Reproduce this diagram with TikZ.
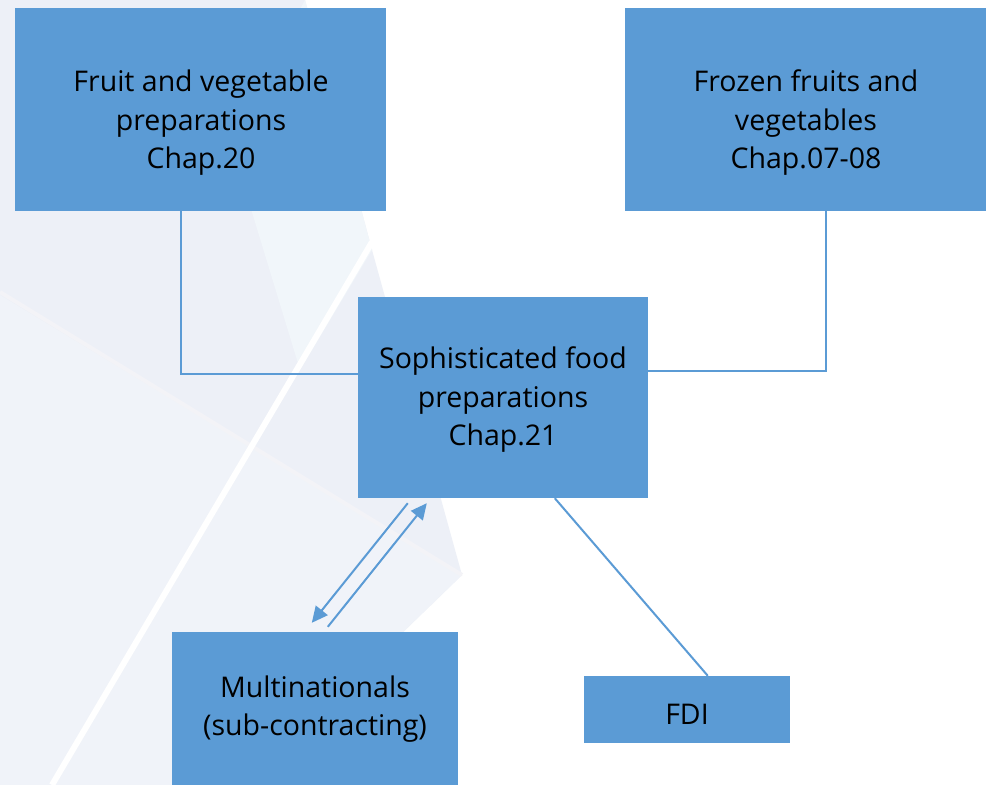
\documentclass[tikz,border=0pt]{standalone}
\usepackage{fontspec}
\setmainfont{Open Sans}
\usetikzlibrary{arrows.meta,calc}
\definecolor{boxblue}{HTML}{5B9BD5}
\definecolor{bgA}{HTML}{EDF0F7}
\definecolor{bgB}{HTML}{F0F3F9}
\definecolor{bgC}{HTML}{F1F6FA}
\definecolor{bgL}{HTML}{F3F3F7}
\tikzset{
  box/.style={fill=boxblue, draw=none, inner sep=0pt},
  txt/.style={align=center, font=\fontsize{28.5}{38.5}\selectfont, text=black, inner sep=0pt},
  conn/.style={draw=boxblue, line width=2pt},
  arr/.style={draw=boxblue, line width=2pt, -{Triangle[length=16pt,width=15pt]}}
}
\begin{document}
\begin{tikzpicture}[x=1pt,y=-1pt]
\useasboundingbox (0,0) rectangle (986,785);
\fill[white] (0,0) rectangle (986,785);
% background shapes
\fill[bgA] (0,0) -- (305,0) -- (372,250) -- (462,575) -- (400,635) -- (380,785) -- (0,785) -- cycle;
\fill[bgB] (0,295) -- (462,575) -- (400,635) -- (380,785) -- (0,785) -- cycle;
\fill[bgC] (305,0) -- (372,250) -- (300,370) -- (230,140) -- cycle;
\draw[bgL, line width=4pt] (0,292) -- (462,575);
\draw[white, line width=6pt] (372,242) -- (52,785);
% boxes
\node[box, minimum width=371pt, minimum height=203pt] (b1) at (200.5,109.5) {};
\node[box, minimum width=361pt, minimum height=203pt] (b2) at (805.5,109.5) {};
\node[box, minimum width=290pt, minimum height=201pt] (b3) at (503,397.5) {};
\node[box, minimum width=286pt, minimum height=153pt] (b4) at (315,708.5) {};
\node[box, minimum width=206pt, minimum height=67pt] (b5) at (687,709.5) {};
% texts
\node[txt] (t1) at (201,123) {Fruit and vegetable\\preparations\\Chap.20};
\node[txt] (t2) at (806,123) {Frozen fruits and\\vegetables\\Chap.07-08};
\node[txt] (t3) at (503,400) {Sophisticated food\\preparations\\Chap.21};
\node[txt] (t4) at (315,709) {Multinationals\\(sub-contracting)};
\node[txt] (t5) at (687,714) {FDI};
% connectors
\draw[conn] ([xshift=166pt]b1.south west) |- ([yshift=23.5pt]b3.west);
\draw[conn] ([xshift=201pt]b2.south west) |- ([yshift=27pt]b3.east);
\draw[conn] ([xshift=197pt]b3.south west) -- ([xshift=124pt]b5.north west);
\draw[arr] ([xshift=50pt,yshift=-5pt]b3.south west) -- ([xshift=140pt,yshift=9pt]b4.north west);
\draw[arr] ([xshift=156pt,yshift=5pt]b4.north west) -- ([xshift=69pt,yshift=-5pt]b3.south west);
\end{tikzpicture}
\end{document}
